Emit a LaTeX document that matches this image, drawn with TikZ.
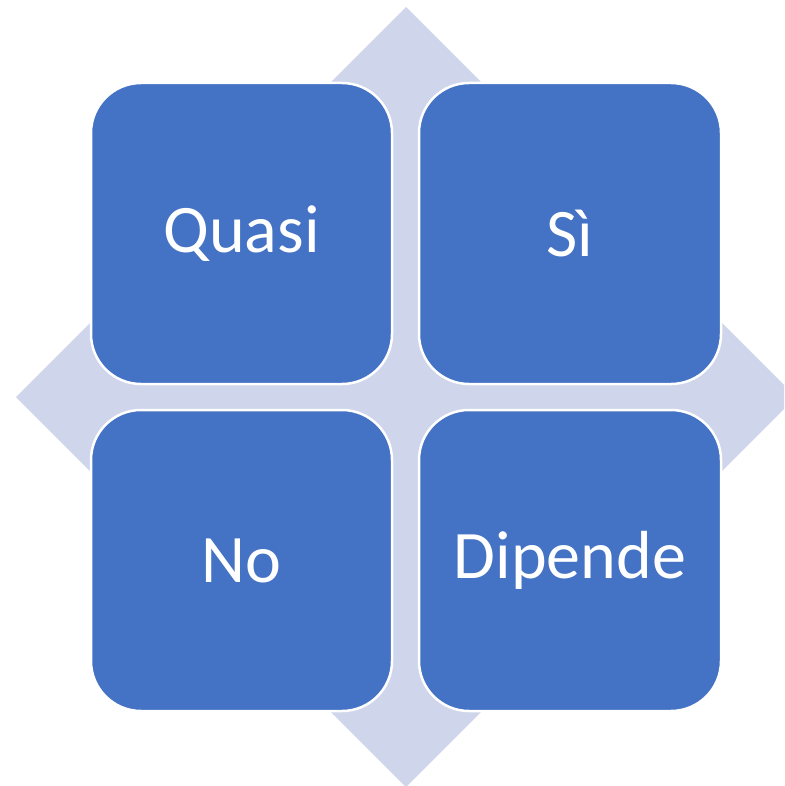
\documentclass[tikz,border=0pt]{standalone}
\usepackage{fontspec}
\setmainfont{Carlito}
\definecolor{boxblue}{HTML}{4472C4}
\definecolor{diam}{HTML}{CFD5EA}
\begin{document}
\begin{tikzpicture}[x=1pt,y=-1pt,
  tile/.style={fill=boxblue,draw=white,line width=2.5pt,rounded corners=50pt},
  lbl/.style={text=white,font=\fontsize{68}{80}\selectfont,inner sep=0pt}]
\useasboundingbox (0,0) rectangle (784,786);
\clip (0,0) rectangle (784,786);
\fill[diam] (406,7) -- (796,397) -- (406,787) -- (16,397) -- cycle;
\draw[tile] (91,83) rectangle (392,384);
\draw[tile] (419,83) rectangle (721,384);
\draw[tile] (91,410) rectangle (392,711);
\draw[tile] (419,410) rectangle (721,711);
\node[lbl] (q) at (241.5,233.5) {Quasi};
\node[lbl] (s) at (570,233.5) {Sì};
\node[lbl] (n) at (241.5,560.5) {No};
\node[lbl] (d) at (570,560.5) {Dipende};
\end{tikzpicture}
\end{document}
